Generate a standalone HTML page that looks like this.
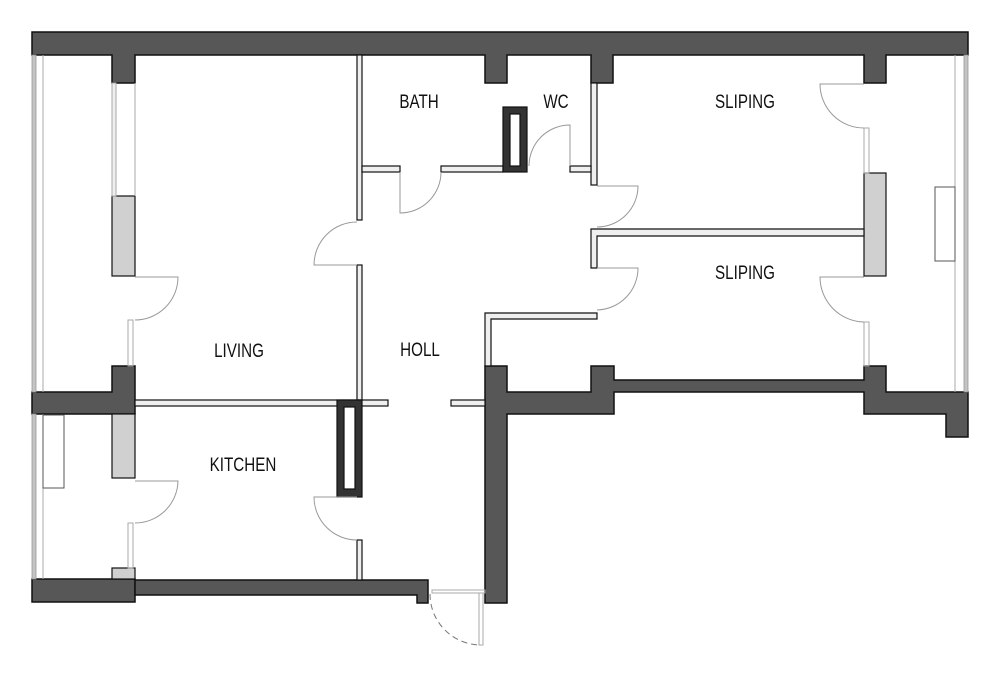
<!DOCTYPE html>
<html><head><meta charset="utf-8"><style>
html,body{margin:0;padding:0;background:#fff;width:1000px;height:677px;overflow:hidden}
svg{display:block}
text{font-family:"Liberation Sans",sans-serif;font-size:19px;fill:#111}
</style></head><body>
<svg width="1000" height="677" viewBox="0 0 1000 677" xmlns="http://www.w3.org/2000/svg">
<g fill="#575757" stroke="#111" stroke-width="1.5" stroke-linejoin="miter">
<path d="M32 32 H968 V55 H886 V83 H864 V55 H613 V83 H591 V55 H507 V83 H485 V55 H135 V83 H112 V55 H32 Z"/>
<path d="M32 392 H112 V366 H135 V414 H32 Z"/>
<path d="M32 579 H135 V602 H32 Z"/>
<path d="M135 580 H428 V603 H417 V595 H135 Z"/>
<path d="M485 366 H507 V392 H591 V366 H614 V380 H864 V366 H886 V392 H968 V437 H946 V414 H864 V392 H614 V414 H507 V603 H485 Z"/>
</g>
<g fill="#d0d0d0" stroke="#111" stroke-width="1.2">
<rect x="112" y="196" width="23" height="80"/>
<rect x="112" y="414" width="23" height="64"/>
<rect x="112" y="568" width="23" height="11"/>
<rect x="864" y="173" width="22" height="103"/>
</g>
<g fill="#efefef" stroke="#111" stroke-width="1.2">
<rect x="357" y="55" width="5" height="165"/>
<rect x="357" y="265" width="5" height="135"/>
<rect x="357" y="540" width="5" height="40"/>
<rect x="135" y="400" width="253" height="6"/>
<rect x="451" y="400" width="34" height="6"/>
<rect x="362" y="166" width="38" height="6"/>
<rect x="441" y="166" width="62" height="6"/>
<rect x="591" y="83" width="6" height="102"/>
<rect x="570" y="166" width="21" height="6"/>
<path d="M591 229 H864 V236 H597 V268 H591 Z"/>
<path d="M485 313 H597 V319 H491 V366 H485 Z"/>
</g>
<g fill="#333" stroke="#111" stroke-width="1.2">
<rect x="337" y="400" width="25" height="97"/>
<rect x="503" y="107" width="24" height="65"/>
</g>
<g fill="#fff" stroke="#111" stroke-width="1.2">
<rect x="344" y="407" width="11" height="82"/>
<rect x="510" y="114" width="10" height="52"/>
</g>
<g fill="#c4c4c4" stroke="#999" stroke-width="0.8">
<rect x="32" y="55" width="4" height="337"/>
<rect x="32" y="414" width="4" height="165"/>
<rect x="964" y="55" width="4" height="337"/>
</g>
<g stroke="#aaa" stroke-width="1" fill="none">
<line x1="43" y1="55" x2="43" y2="392"/>
<line x1="43" y1="414" x2="43" y2="579"/>
<line x1="955" y1="55" x2="955" y2="392"/>
<rect x="112" y="83" width="4" height="113" fill="#eee"/>
<line x1="135" y1="83" x2="135" y2="196"/>
<rect x="128" y="320" width="5" height="46"/>
<rect x="128" y="523" width="5" height="45"/>
<rect x="864" y="128" width="5" height="45"/>
<rect x="864" y="322" width="5" height="44"/>
<rect x="432" y="590" width="53" height="3"/>
<rect x="479" y="593" width="4" height="52"/>
</g>
<g fill="#fff" stroke="#555" stroke-width="1">
<rect x="43" y="415" width="21" height="73"/>
<rect x="935" y="187" width="20" height="74"/>
</g>
<g fill="none" stroke="#999" stroke-width="1">
<path d="M135 277 H178 A43 43 0 0 1 135 320"/>
<path d="M135 481 H178 A43 43 0 0 1 135 523"/>
<path d="M400 172 V213 A41 41 0 0 0 441 172"/>
<path d="M357 265 H314 A43 43 0 0 1 357 222"/>
<path d="M570 166 V125 A41 41 0 0 0 529 166"/>
<path d="M597 186 H638 A41 41 0 0 1 597 227"/>
<path d="M597 268 H638 A42 42 0 0 1 597 310"/>
<path d="M864 84 H820 A44 44 0 0 0 864 128"/>
<path d="M864 277 H820 A45 45 0 0 0 864 322"/>
<path d="M357 497 H314 A43 43 0 0 0 357 540"/>
<path d="M430 594 A51 51 0 0 0 481 645" stroke-dasharray="6,4" stroke="#777"/>
</g>
<g text-anchor="middle">
<text transform="translate(419,108) scale(0.8,1)">BATH</text>
<text transform="translate(556,108) scale(0.8,1)">WC</text>
<text transform="translate(745,108) scale(0.8,1)">SLIPING</text>
<text transform="translate(745,279) scale(0.8,1)">SLIPING</text>
<text transform="translate(239,357) scale(0.8,1)">LIVING</text>
<text transform="translate(420,356) scale(0.8,1)">HOLL</text>
<text transform="translate(243,471) scale(0.8,1)">KITCHEN</text>
</g>
</svg>
</body></html>
